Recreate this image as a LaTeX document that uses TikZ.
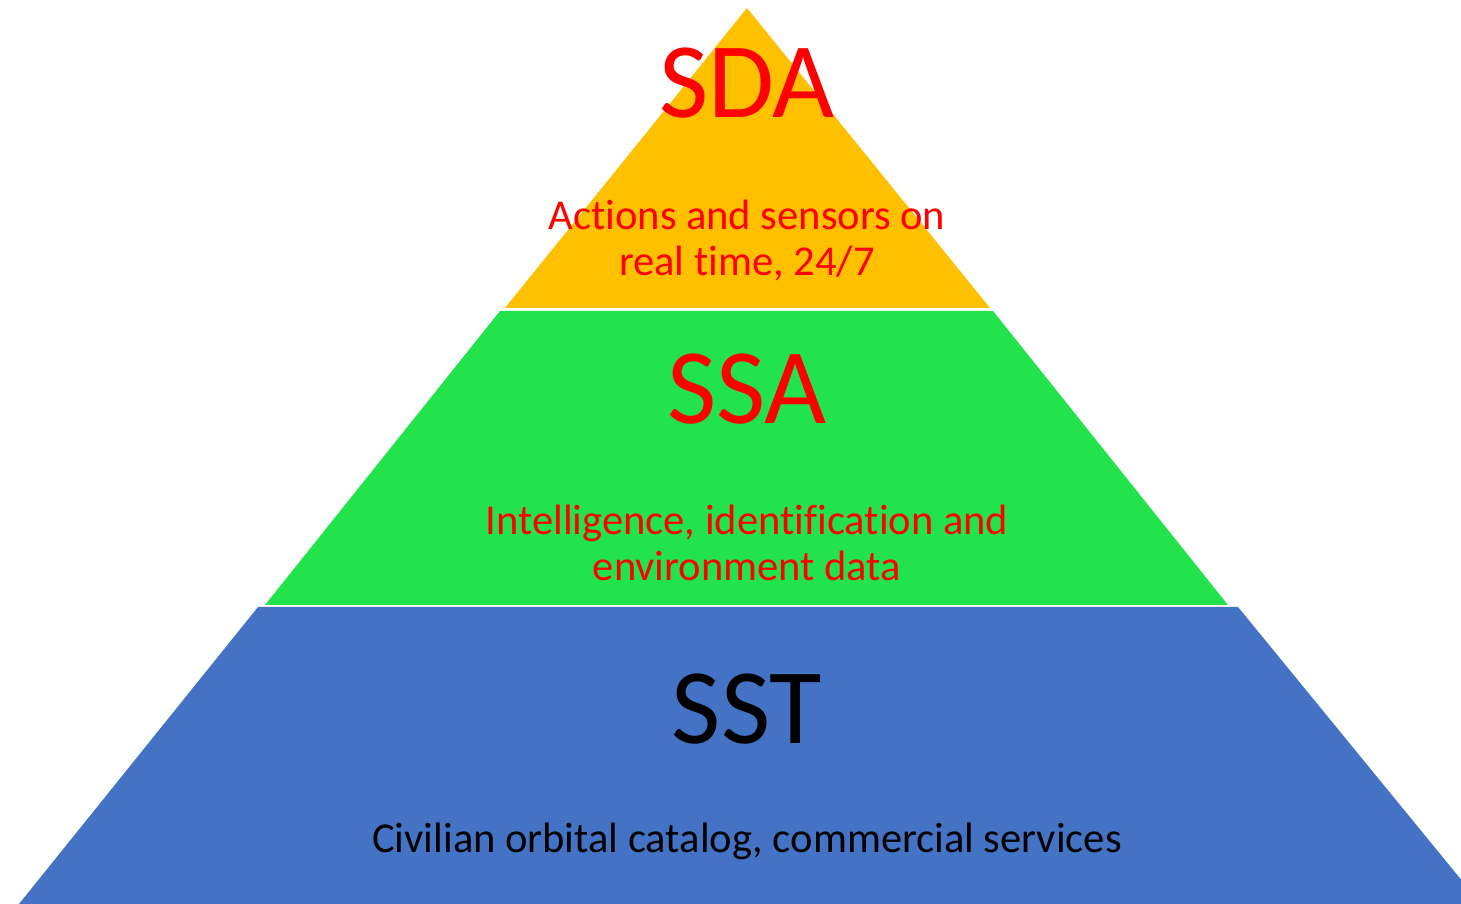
\documentclass[tikz,border=0pt]{standalone}
\usepackage{fontspec}
\setmainfont[Ligatures=NoCommon]{Carlito}
\usepackage{xcolor}
\usepackage{tikz}

\definecolor{sdaYellow}{HTML}{FFC000}
\definecolor{ssaGreen}{HTML}{22E34B}
\definecolor{sstBlue}{HTML}{4472C4}
\definecolor{lblRed}{HTML}{FF0000}

\begin{document}
\begin{tikzpicture}[x=0.01cm, y=-0.01cm,
		title/.style = {anchor = base, font = \fontsize{30.5}{36}\selectfont},
		note/.style = {align = center, font = \fontsize{12.1}{13.1}\selectfont}]
			\useasboundingbox (0,0) rectangle (1461,904);
			\clip (0,0) rectangle (1461,904);
			
			% tiers
			\fill [sdaYellow] (747,8) -- (990,308) -- (505,308) -- cycle;
			\fill [ssaGreen] (500,311) -- (993,311) -- (1228,605) -- (265,605) -- cycle;
			\fill [sstBlue] (258,607) -- (1238,607) -- (1481,904) -- (19,904) -- cycle;
			
			\node [title, lblRed] (sda) at (747,118) {SDA};
			\node [note, lblRed] (sdanote) at (747,240) {Actions and sensors on\\real time, 24/7};
			
			\node [title, lblRed] (ssa) at (747,424) {SSA};
			\node [note, lblRed] (ssanote) at (747,543) {Intelligence, identification and\\environment data};
			
			\node [title] (sst) at (747,744) {SST};
			\node [note, anchor = base] (sstnote) at (747,852) {Civilian orbital catalog, commercial services};
		\end{tikzpicture}
\end{document}
